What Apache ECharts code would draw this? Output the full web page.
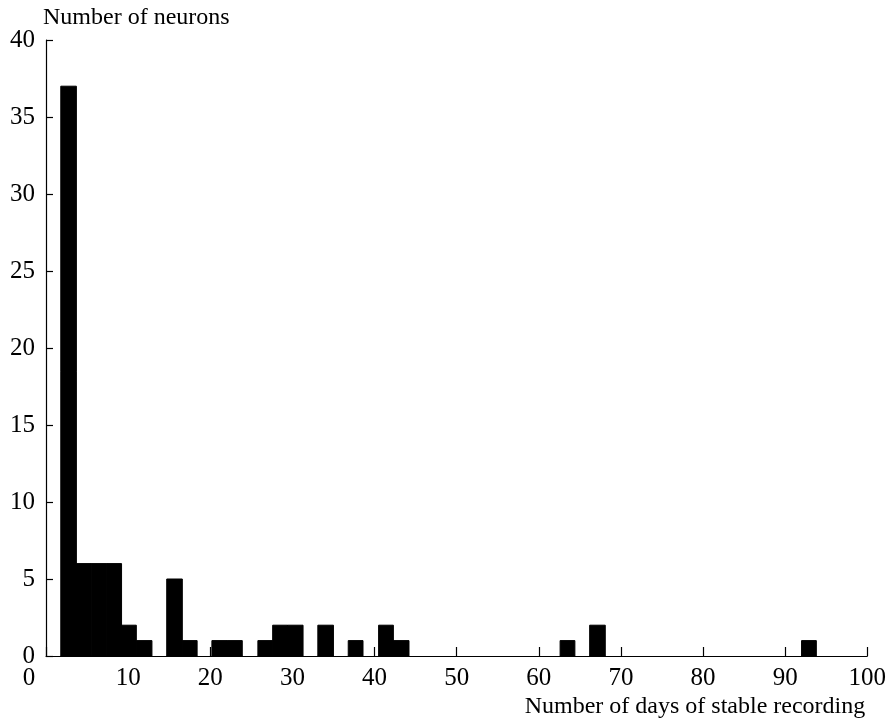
<!DOCTYPE html>
<html><head><meta charset="utf-8">
<script src="https://cdn.jsdelivr.net/npm/echarts@6/dist/echarts.min.js"></script>
<style>html,body{margin:0;padding:0;background:#fff}#c{width:889px;height:719px}</style>
</head><body><div id="c"></div>
<script>
// Histogram bins (days) and counts
const binStart = [1.8, 3.7, 5.5, 7.4, 9.2, 11.0, 14.7, 16.6, 20.2, 22.1, 25.8, 27.6, 29.4, 33.1, 36.8, 40.5, 42.3, 62.6, 66.2, 92.0];
const binEnd   = [3.7, 5.5, 7.4, 9.2, 11.0, 12.9, 16.6, 18.4, 22.1, 23.9, 27.6, 29.4, 31.3, 35.0, 38.6, 42.3, 44.2, 64.4, 68.1, 93.8];
const neurons  = [37, 6, 6, 6, 2, 1, 5, 1, 1, 1, 1, 2, 2, 2, 1, 2, 1, 1, 2, 1];
const xTicks = [0, 10, 20, 30, 40, 50, 60, 70, 80, 90, 100];
const yTicks = [0, 5, 10, 15, 20, 25, 30, 35, 40];

const data = binStart.map((s, i) => [s, binEnd[i], neurons[i]]);
const font = 'Liberation Serif';
const chart = echarts.init(document.getElementById('c'));
chart.setOption({
  animation: false,
  backgroundColor: '#fff',
  grid: { left: 46, right: 21, top: 40, bottom: 62 },
  xAxis: {
    type: 'value', min: xTicks[0], max: xTicks[xTicks.length - 1], interval: 10,
    name: 'Number of days of stable recording',
    nameLocation: 'end', nameGap: -2,
    nameTextStyle: { fontFamily: font, fontSize: 24, color: '#000', align: 'right', verticalAlign: 'top', padding: [39, 0, 0, 0] },
    splitLine: { show: false },
    axisLine: { show: true, lineStyle: { color: '#000', width: 1.2 } },
    axisTick: { show: true, inside: true, length: 9, lineStyle: { color: '#000', width: 1.2 } },
    axisLabel: {
      fontFamily: font, fontSize: 25, color: '#000', margin: 10,
      formatter: v => v === 0 ? '{z|0}' : String(v),
      rich: { z: { fontFamily: font, fontSize: 25, color: '#000', padding: [0, 34, 0, 0] } }
    }
  },
  yAxis: {
    type: 'value', min: yTicks[0], max: yTicks[yTicks.length - 1], interval: 5,
    name: 'Number of neurons',
    nameLocation: 'end', nameGap: 10,
    nameTextStyle: { fontFamily: font, fontSize: 24, color: '#000', align: 'left', padding: [0, 0, 0, -3] },
    splitLine: { show: false },
    axisLine: { show: true, lineStyle: { color: '#000', width: 1.2 } },
    axisTick: { show: true, inside: true, length: 7, lineStyle: { color: '#000', width: 1.2 } },
    axisLabel: { fontFamily: font, fontSize: 25, color: '#000', margin: 11 }
  },
  series: [{
    type: 'custom',
    data: data,
    encode: { x: [0, 1], y: 2 },
    renderItem: function (params, api) {
      const p0 = api.coord([api.value(0), api.value(2)]);
      const p1 = api.coord([api.value(1), 0]);
      return { type: 'rect', shape: { x: p0[0], y: p0[1], width: p1[0] - p0[0], height: p1[1] - p0[1] }, style: { fill: '#000', stroke: '#000', lineWidth: 1 } };
    }
  }]
});
</script></body></html>
